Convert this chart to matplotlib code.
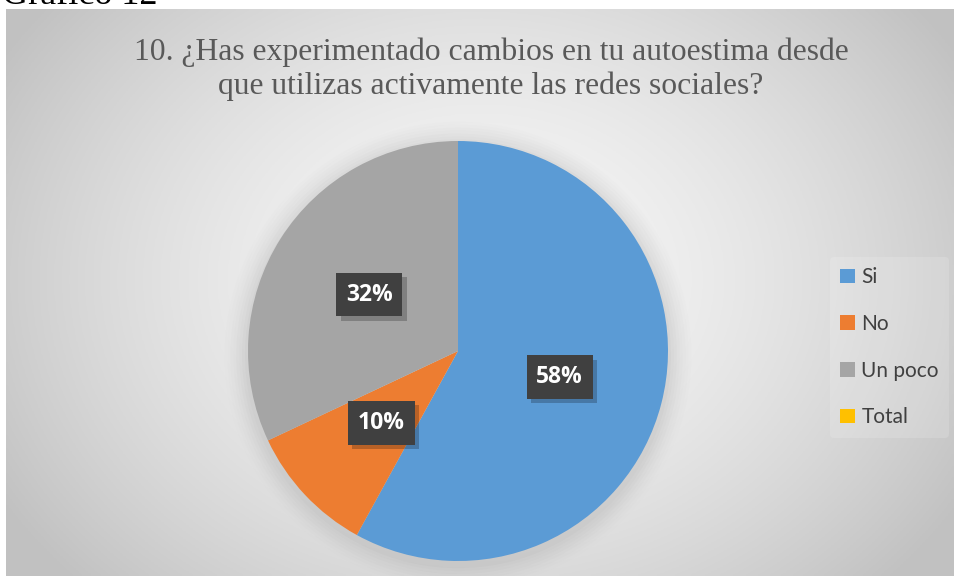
import numpy as np
import matplotlib
matplotlib.use('Agg')
import matplotlib.pyplot as plt
import matplotlib.patheffects as pe
from matplotlib.patches import Circle, Rectangle

# Données
categorias = ['Si', 'No', 'Un poco', 'Total']
valores = [58, 10, 32, 0]
etiquetas = ['58%', '10%', '32%', '']
colores = ['#5b9bd5', '#ed7d31', '#a5a5a5', '#ffc000']
titulo = '10. ¿Has experimentado cambios en tu autoestima desde\nque utilizas activamente las redes sociales?'

W, H = 957, 576
fig = plt.figure(figsize=(W / 100, H / 100), dpi=100)
fig.patch.set_facecolor('white')

# Fondo con degradado radial (zona del gráfico)
x0, y0, x1, y1 = 6, 9, 954, 576
bg = fig.add_axes([x0 / W, 0, (x1 - x0) / W, (H - y0) / H])
bg.set_axis_off()
yy, xx = np.mgrid[0:200, 0:300]
cx, cy = 150, 95
d = np.sqrt(((xx - cx) / 170) ** 2 + ((yy - cy) / 150) ** 2)
g = np.clip(0.97 - 0.2 * d ** 1.6, 0.76, 0.97)
bg.imshow(np.dstack([g, g, g]), aspect='auto', extent=[0, 1, 0, 1])
bg.set_xlim(0, 1)
bg.set_ylim(0, 1)

# Texto superior cortado
fig.text(2 / W, 1 - 4 / H, 'Gráfico 12', fontsize=26, family='Liberation Serif',
         color='black', va='baseline', ha='left')

# Título
fig.text(491 / W, 1 - 69 / H, titulo, fontsize=22.8, family='Liberation Serif',
         color='#595959', ha='center', va='center', linespacing=1.2)

# Pastel
r_px = 210
cxp, cyp = 458, 351
ax = fig.add_axes([(cxp - r_px) / W, (H - cyp - r_px) / H, 2 * r_px / W, 2 * r_px / H])
ax.set_axis_off()

# Sombra suave alrededor del pastel
for i, a in enumerate(np.linspace(0.05, 0.012, 8)):
    ax.add_patch(Circle((0, -0.02), 1.0 + 0.014 * (i + 1), color='#909090', alpha=a,
                        zorder=0, clip_on=False, lw=0))

wedges, _ = ax.pie(valores, colors=colores, startangle=90, counterclock=False,
                   radius=1, wedgeprops=dict(linewidth=0))
for w in wedges:
    w.set_zorder(2)
ax.set_xlim(-1, 1)
ax.set_ylim(-1, 1)
ax.set_aspect('equal')

# Etiquetas de datos
total = sum(valores)
ang0 = 90
acum = 0
for v, lab in zip(valores, etiquetas):
    if v == 0:
        continue
    mid = ang0 - (acum + v / 2) / total * 360
    acum += v
    px = 0.5 * np.cos(np.radians(mid))
    py = 0.5 * np.sin(np.radians(mid))
    t = ax.text(px, py, lab, fontsize=16.5, fontweight='bold', color='white',
                family='Open Sans', ha='center', va='center', zorder=4,
                bbox=dict(boxstyle='square,pad=0.42', facecolor='#404040', lw=0))
    t.get_bbox_patch().set_path_effects([
        pe.SimplePatchShadow(offset=(3, -3), shadow_rgbFace='black', alpha=0.22),
        pe.Normal()])

# Leyenda
handles = [Rectangle((0, 0), 1, 1, facecolor=c, lw=0) for c in colores]
leg = fig.legend(handles, categorias, loc='upper left',
                 bbox_to_anchor=(830 / W, 1 - 257 / H), frameon=True,
                 prop={'family': 'Lato', 'size': 15}, labelspacing=1.28,
                 handlelength=0.7, handleheight=0.7, handletextpad=0.3,
                 borderaxespad=0, borderpad=0.5)
leg.get_frame().set_facecolor('white')
leg.get_frame().set_alpha(0.15)
leg.get_frame().set_linewidth(0)
for t in leg.get_texts():
    t.set_color('#404040')

fig.savefig('out.png', dpi=100)
